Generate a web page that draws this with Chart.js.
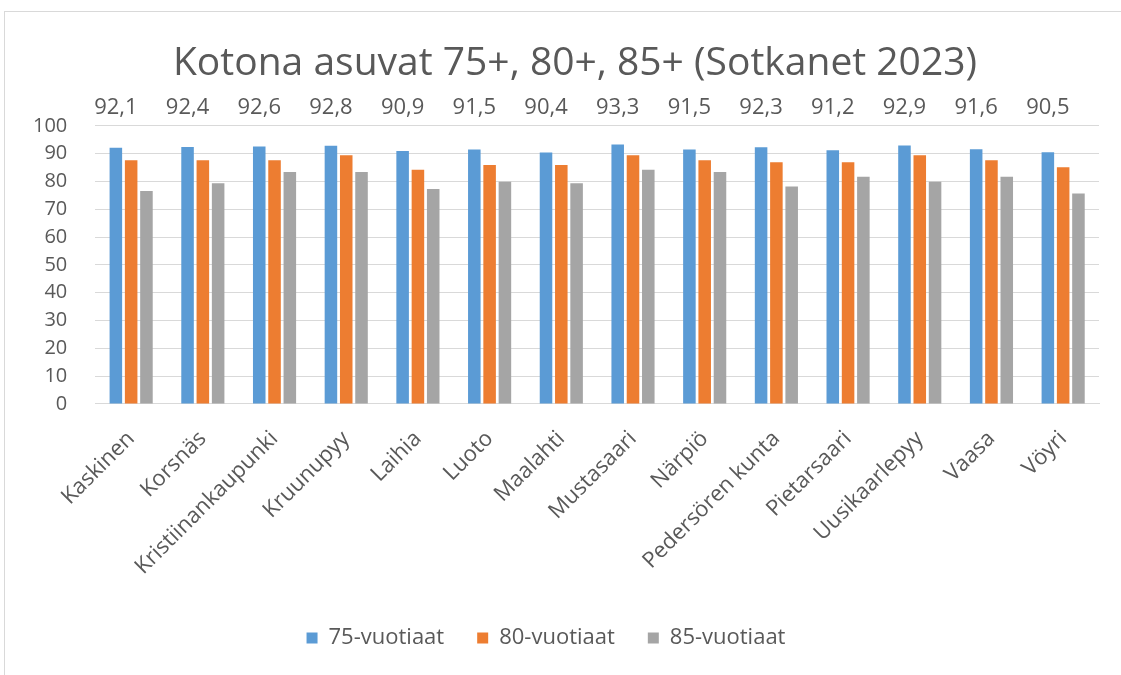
<!DOCTYPE html>
<html>
<head>
<meta charset="utf-8">
<script src="https://cdn.jsdelivr.net/npm/chart.js@4/dist/chart.umd.min.js"></script>
<style>
  body { margin: 0; background: #fff; }
  #wrap {
    position: absolute; left: 4px; top: 11px; width: 1117px; height: 664px;
    border-left: 1px solid #d9d9d9; border-top: 1px solid #d9d9d9;
  }
</style>
</head>
<body>
<div id="wrap"><canvas id="chart"></canvas></div>
<script>
// ─── data ──────────────────────────────────────────────
const municipalities = ["Kaskinen", "Korsnäs", "Kristiinankaupunki", "Kruunupyy", "Laihia", "Luoto",
  "Maalahti", "Mustasaari", "Närpiö", "Pedersören kunta", "Pietarsaari", "Uusikaarlepyy", "Vaasa", "Vöyri"];
const age75 = [92.1, 92.4, 92.6, 92.8, 90.9, 91.5, 90.4, 93.3, 91.5, 92.3, 91.2, 92.9, 91.6, 90.5];
const age80 = [87.6, 87.6, 87.6, 89.4, 84.2, 85.9, 85.9, 89.4, 87.6, 86.9, 86.9, 89.4, 87.6, 85.1];
const age85 = [76.6, 79.3, 83.4, 83.4, 77.3, 79.9, 79.3, 84.2, 83.4, 78.2, 81.7, 79.9, 81.7, 75.7];
const seriesNames = ["75-vuotiaat", "80-vuotiaat", "85-vuotiaat"];
const yTicks = [0, 10, 20, 30, 40, 50, 60, 70, 80, 90, 100];

const textColor = "#595959";
const fontFamily = "'Open Sans', sans-serif";

// 75-arvot piirretään kaavion yläreunaan, sinisen palkin kohdalle
const topLabels = {
  id: "topLabels",
  afterDatasetsDraw(chart) {
    const { ctx, chartArea } = chart;
    const meta = chart.getDatasetMeta(0);
    ctx.save();
    ctx.font = "22px " + fontFamily;
    ctx.fillStyle = textColor;
    ctx.textAlign = "center";
    ctx.textBaseline = "middle";
    meta.data.forEach((bar, i) => {
      ctx.fillText(age75[i].toFixed(1).replace(".", ","), bar.x, chartArea.top - 18);
    });
    ctx.restore();
  }
};

// otsikko ja selite eivät ole alkuperäisessä aivan keskellä
const shiftBlocks = {
  id: "shiftBlocks",
  afterLayout(chart) {
    chart.titleBlock.left += 23;
    chart.titleBlock.right += 23;
    chart.legend.left -= 6;
    chart.legend.right -= 6;
  }
};

new Chart(document.getElementById("chart"), {
  type: "bar",
  data: {
    labels: municipalities,
    datasets: [
      { label: seriesNames[0], data: age75, backgroundColor: "#5B9BD5" },
      { label: seriesNames[1], data: age80, backgroundColor: "#ED7D31" },
      { label: seriesNames[2], data: age85, backgroundColor: "#A5A5A5" }
    ]
  },
  options: {
    responsive: true,
    maintainAspectRatio: false,
    animation: false,
    categoryPercentage: 0.64,
    barPercentage: 0.82,
    layout: { padding: { left: 0, right: 23, bottom: 17 } },
    plugins: {
      title: {
        display: true,
        text: "Kotona asuvat 75+, 80+, 85+ (Sotkanet 2023)",
        color: textColor,
        font: { family: fontFamily, size: 39, weight: "normal" },
        padding: { top: 28, bottom: 39 }
      },
      legend: {
        position: "bottom",
        labels: {
          color: textColor,
          font: { family: fontFamily, size: 22 },
          boxWidth: 11, boxHeight: 11,
          padding: 33
        }
      },
      tooltip: { enabled: false }
    },
    scales: {
      x: {
        grid: { display: false },
        border: { color: "#d9d9d9" },
        ticks: {
          color: textColor,
          font: { family: fontFamily, size: 22 },
          minRotation: 45, maxRotation: 45,
          autoSkip: false,
          padding: 14
        }
      },
      y: {
        min: 0, max: 100,
        afterBuildTicks: axis => { axis.ticks = yTicks.map(v => ({ value: v })); },
        grid: { color: "#d9d9d9", drawTicks: false },
        border: { display: false },
        ticks: {
          color: textColor,
          font: { family: fontFamily, size: 20 },
          autoSkip: false,
          padding: 28
        }
      }
    }
  },
  plugins: [topLabels, shiftBlocks]
});
</script>
</body>
</html>
